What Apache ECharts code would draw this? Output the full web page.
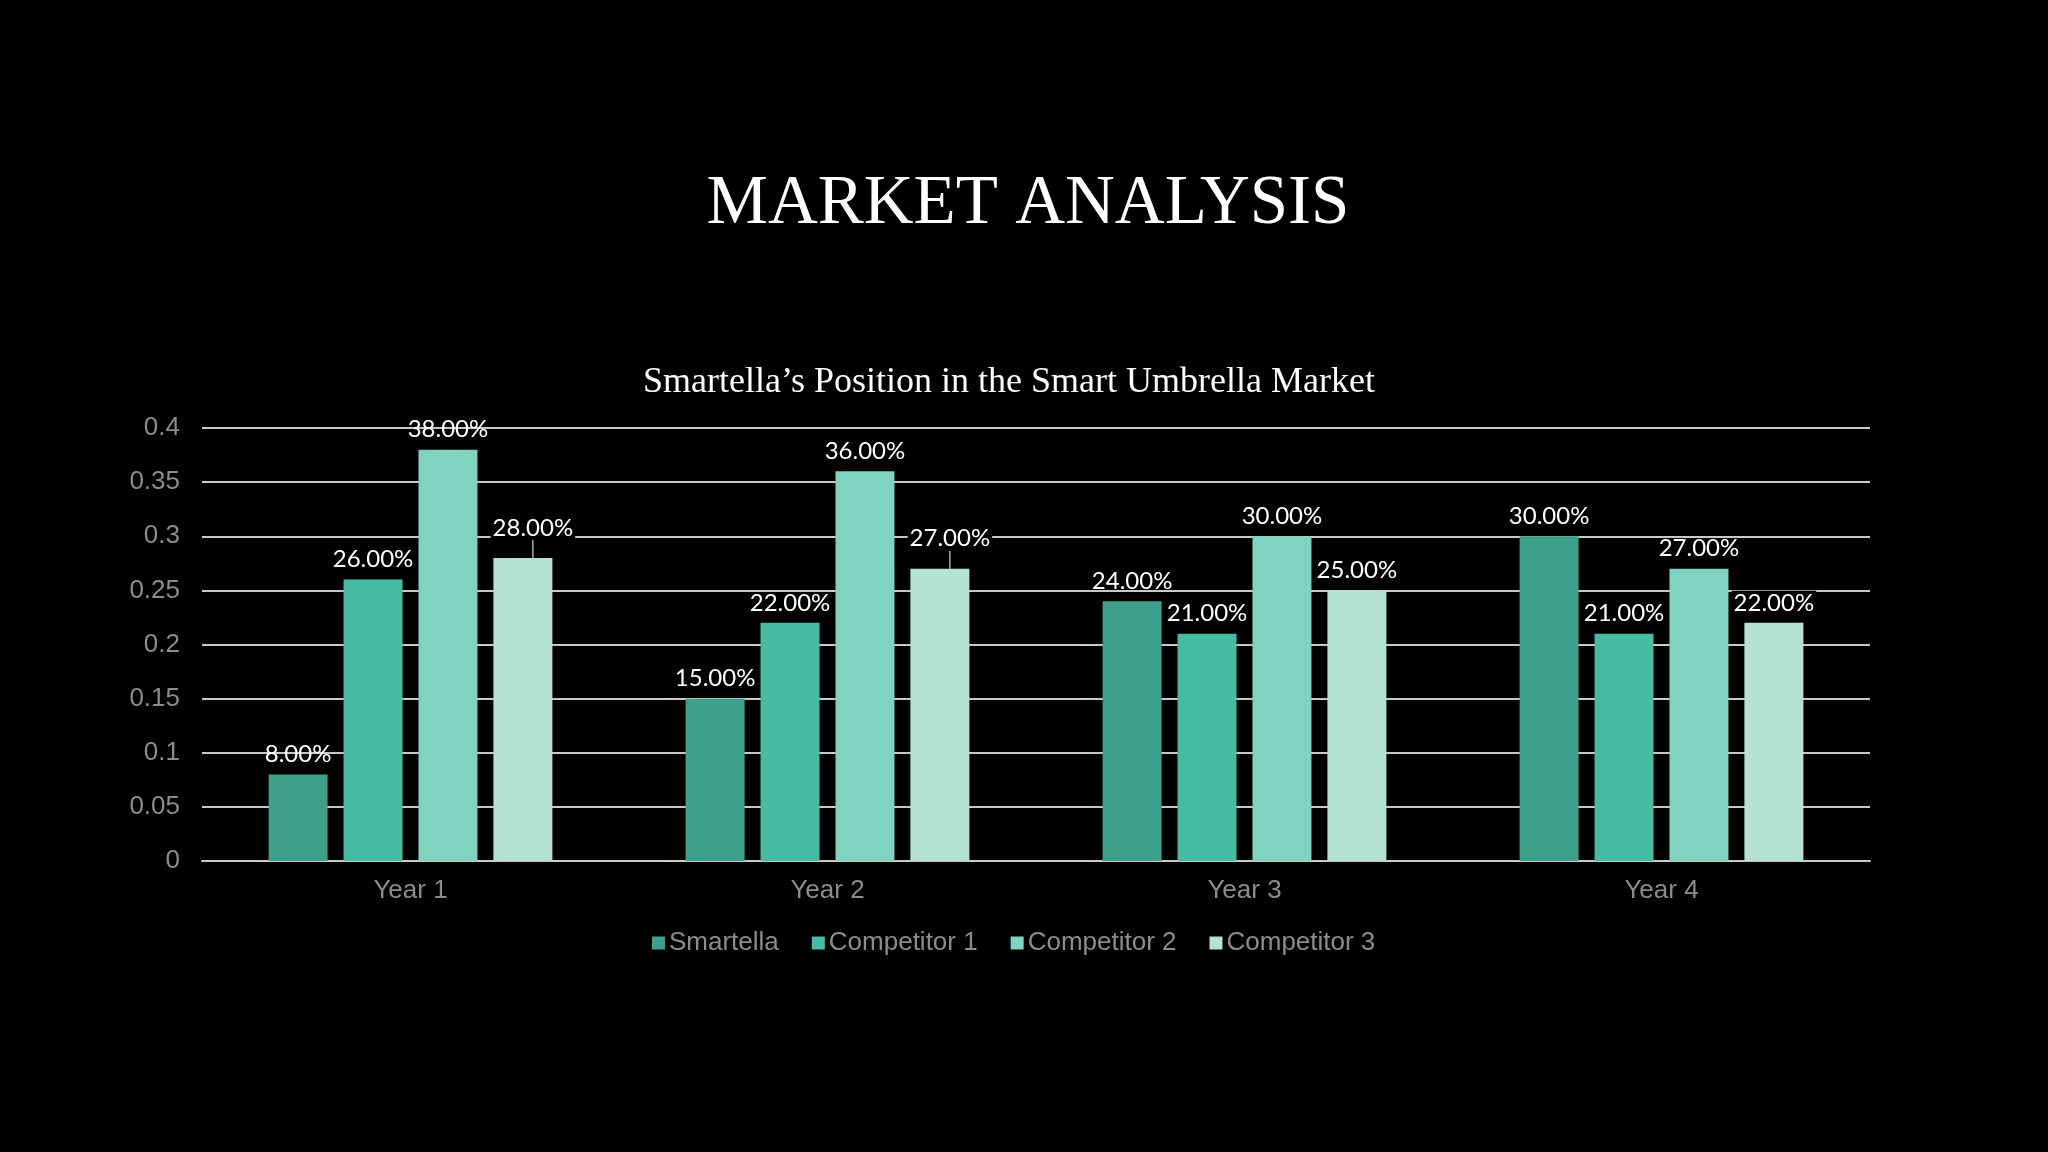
<!DOCTYPE html>
<html><head><meta charset="utf-8">
<script src="https://cdn.jsdelivr.net/npm/echarts@6/dist/echarts.min.js"></script>
<style>html,body{margin:0;padding:0;background:#000;}#c{width:2048px;height:1152px;}</style>
</head><body><div id="c"></div>
<script>
const categories = ['Year 1', 'Year 2', 'Year 3', 'Year 4'];
const seriesNames = ['Smartella', 'Competitor 1', 'Competitor 2', 'Competitor 3'];
const smartella = [0.08, 0.15, 0.24, 0.30];
const competitor1 = [0.26, 0.22, 0.21, 0.21];
const competitor2 = [0.38, 0.36, 0.30, 0.27];
const competitor3 = [0.28, 0.27, 0.25, 0.22];
const yTicks = [0, 0.05, 0.1, 0.15, 0.2, 0.25, 0.3, 0.35, 0.4];
const colors = ['#3DA08A', '#46BDA3', '#7FD3BF', '#B4E3D5'];
const values = [smartella, competitor1, competitor2, competitor3];

const chart = echarts.init(document.getElementById('c'));
const series = values.map((vals, i) => ({
  name: seriesNames[i],
  type: 'bar',
  data: vals.map((v, j) => ({
    value: v,
    labelLine: { show: i === 3 && j <= 1 }
  })),
  barWidth: 59,
  barGap: '27%',
  itemStyle: { color: colors[i] },
  label: {
    show: true,
    position: 'top',
    distance: 8,
    color: '#ffffff',
    fontFamily: 'Lato',
    fontSize: 24,
    backgroundColor: i === 3 ? '#000' : 'transparent',
    padding: [0, 2],
    formatter: p => (p.value * 100).toFixed(2) + '%'
  },
  labelLine: { show: false, lineStyle: { color: '#d9d9d9', width: 1.2 } },
  labelLayout: i === 3 ? function (p) {
    if (p.dataIndex <= 1) return { dx: 10, dy: -10 };
    return {};
  } : undefined
}));

chart.setOption({
  backgroundColor: '#000',
  animation: false,
  title: [
    { text: 'MARKET ANALYSIS', left: 1023, top: 165, textAlign: 'center',
      textStyle: { color: '#fff', fontFamily: 'Liberation Serif', fontSize: 69, fontWeight: 'normal' } },
    { text: 'Smartella\u2019s Position in the Smart Umbrella Market', left: 1004, top: 360, textAlign: 'center',
      textStyle: { color: '#fff', fontFamily: 'Liberation Serif', fontSize: 36, fontWeight: 'normal' } }
  ],
  legend: {
    data: seriesNames,
    left: 647, top: 925,
    itemWidth: 13, itemHeight: 13, itemGap: 33,
    icon: 'rect',
    textStyle: { color: '#8c8c8c', fontFamily: 'Liberation Sans', fontSize: 26, padding: [0, 0, 0, -1] }
  },
  grid: { left: 202, right: 178, top: 428, height: 433, containLabel: false },
  xAxis: {
    type: 'category',
    data: categories,
    axisLine: { lineStyle: { color: '#c8c8c8', width: 2 } },
    axisTick: { show: false },
    axisLabel: { color: '#8c8c8c', fontFamily: 'Liberation Sans', fontSize: 26, margin: 17 }
  },
  yAxis: {
    type: 'value',
    min: yTicks[0], max: yTicks[yTicks.length - 1], interval: yTicks[1] - yTicks[0],
    axisLine: { show: false },
    axisTick: { show: false },
    splitLine: { lineStyle: { color: '#c8c8c8', width: 2 } },
    axisLabel: { color: '#8c8c8c', fontFamily: 'Liberation Sans', fontSize: 26, margin: 22 }
  },
  series: series
});
</script></body></html>
